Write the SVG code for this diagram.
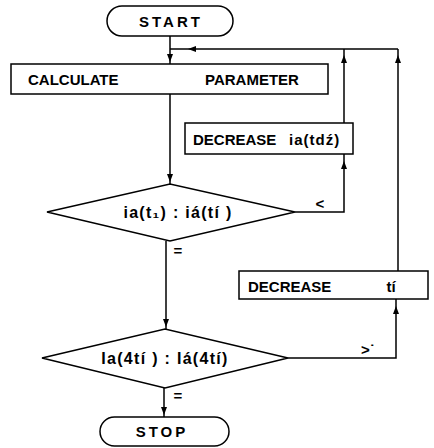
<svg xmlns="http://www.w3.org/2000/svg" width="434" height="448" viewBox="0 0 434 448">
<style>
.s{fill:#fff;stroke:#000;stroke-width:1.5}
.c{fill:none;stroke:#000;stroke-width:1.5}
text{font-family:"Liberation Sans",Arial,sans-serif;font-weight:bold;font-size:15px;fill:#000}
.m{text-anchor:middle}
.d{font-size:16px;letter-spacing:1.3px}
</style>
<defs>
<path id="ah" d="M0,0 L-3,-8 L3,-8 Z" fill="#000"/>
</defs>
<rect width="434" height="448" fill="#fff"/>
<g id="connectors">
<path class="c" d="M170,36 V64"/>
<path class="c" d="M170,49 H398"/>
<path class="c" d="M170,94 V184"/>
<path class="c" d="M295,212 H344 V154"/>
<path class="c" d="M344,123 V49"/>
<path class="c" d="M166,241 V329"/>
<path class="c" d="M288,358 H396 V299"/>
<path class="c" d="M398,271 V49"/>
<path class="c" d="M164,388 V417"/>
<use href="#ah" transform="translate(170,62)"/>
<use href="#ah" transform="translate(188,49) rotate(90)"/>
<use href="#ah" transform="translate(170,182)"/>
<use href="#ah" transform="translate(344,161) rotate(180)"/>
<use href="#ah" transform="translate(344,55) rotate(180)"/>
<use href="#ah" transform="translate(398,55) rotate(180)"/>
<use href="#ah" transform="translate(166,327)"/>
<use href="#ah" transform="translate(396,306) rotate(180)"/>
<use href="#ah" transform="translate(164,415)"/>
<text x="320" y="209" class="m">&lt;</text>
<text x="178" y="256" class="m" font-size="13">=</text>
<text x="368" y="355" class="m">&gt;˙</text>
<text x="178" y="401" class="m" font-size="13">=</text>
</g>
<g id="start">
<rect class="s" x="107" y="6" width="126" height="30" rx="15"/>
<text x="171" y="27" class="m" letter-spacing="3">START</text>
</g>
<g id="calculate">
<rect class="s" x="11" y="64" width="317" height="30"/>
<text x="28" y="85" font-size="16">CALCULATE</text>
<text x="205" y="85" font-size="16">PARAMETER</text>
</g>
<g id="decrease-ia">
<rect class="s" x="185" y="123" width="168" height="31"/>
<text x="193" y="145" font-size="14.5">DECREASE</text>
<text x="289" y="145" font-size="15.5" letter-spacing="1">ia(tdź)</text>
</g>
<g id="compare1">
<polygon class="s" points="47,212 170,184 295,212 170,241"/>
<text x="178" y="218" class="m d">ia(t₁) : iá(tí )</text>
</g>
<g id="decrease-ti">
<rect class="s" x="239" y="271" width="189" height="28"/>
<text x="248" y="292" font-size="15.5">DECREASE</text>
<text x="391" y="292" class="m" font-size="16">tí</text>
</g>
<g id="compare2">
<polygon class="s" points="42,358 165,329 288,358 165,388"/>
<text x="165" y="364" class="m d">Ia(4tí ) : Iá(4tí)</text>
</g>
<g id="stop">
<rect class="s" x="100" y="417" width="129" height="29" rx="14.5"/>
<text x="162" y="437" class="m" letter-spacing="3">STOP</text>
</g>
</svg>
